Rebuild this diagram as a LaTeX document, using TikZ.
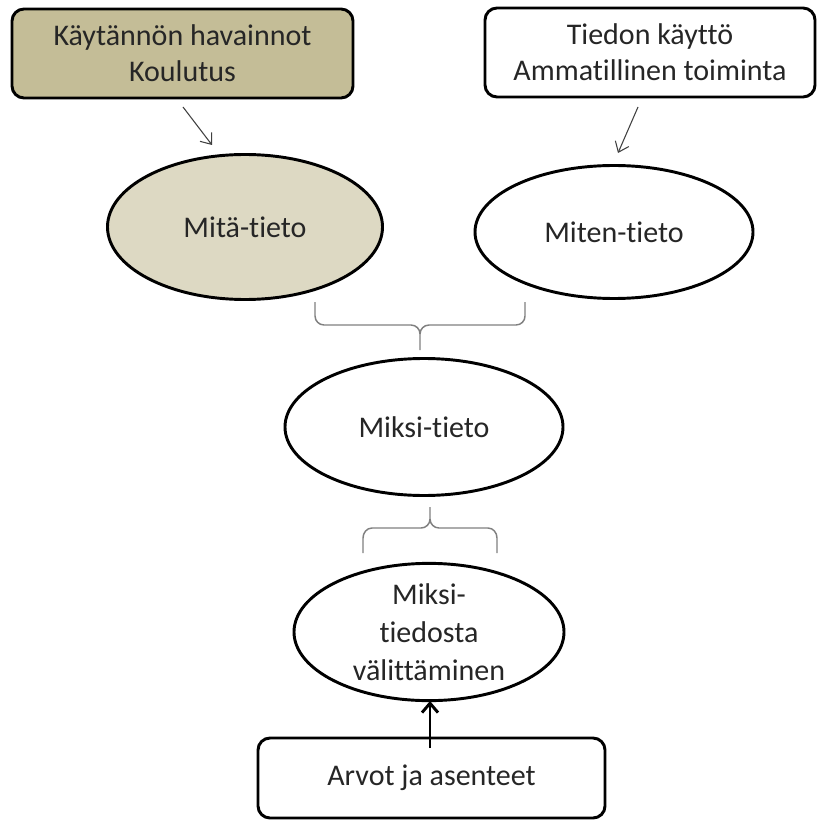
\documentclass[tikz,border=0pt]{standalone}
\usepackage{fontspec}
\setmainfont{Carlito}[RawFeature={-liga;-clig;-calt;-dlig}]
\usetikzlibrary{shapes.geometric,arrows.meta}
\definecolor{tandark}{HTML}{C4BD97}
\definecolor{tanlight}{HTML}{DDD9C3}
\definecolor{thinarrow}{HTML}{404040}
\definecolor{bracegray}{HTML}{808080}
\tikzset{
  txt/.style={font=\fontsize{22.5}{27}\selectfont, align=center, text=black!85},
  boxnode/.style={txt, draw=black, line width=2.2pt, rounded corners=9pt, inner sep=0pt},
  ellnode/.style={txt, ellipse, draw=black, line width=2.2pt, inner sep=0pt},
  thinarr/.style={draw=thinarrow, line width=0.8pt, -{Straight Barb[length=7pt,width=11pt]}},
  thickarr/.style={draw=black, line width=2.2pt, -{Straight Barb[length=7pt,width=12pt]}},
  bracepath/.style={draw=bracegray, line width=1.1pt}
}
\begin{document}
\begin{tikzpicture}[x=0.75pt,y=-0.75pt]
\useasboundingbox (0,0) rectangle (818,823);
% top boxes
\node[boxnode, fill=tandark, minimum width=255.75pt, minimum height=66.75pt] (kay) at (182.5,53.5) {Käytännön havainnot\\Koulutus};
\node[boxnode, fill=white, minimum width=247.5pt, minimum height=66.75pt] (tied) at (650,52.5) {Tiedon käyttö\\Ammatillinen toiminta};
% ellipses
\node[ellnode, fill=tanlight, minimum width=206.25pt, minimum height=108.75pt] (mita) at (245,227) {Mitä-tieto};
\node[ellnode, fill=white, minimum width=208.5pt, minimum height=99.75pt] (miten) at (614,232) {Miten-tieto};
\node[ellnode, fill=white, minimum width=208.5pt, minimum height=102.75pt] (miksi) at (424,427) {Miksi-tieto};
\node[ellnode, fill=white, minimum width=202.5pt, minimum height=101.25pt, font=\fontsize{22.5}{28.5}\selectfont] (valit) at (429,632) {Miksi-\\tiedosta\\välittäminen};
% bottom box
\node[boxnode, fill=white, minimum width=260.25pt, minimum height=60pt] (arvot) at (431.5,778) {Arvot ja asenteet};
% thin arrows
\coordinate (a1s) at (183,107);
\coordinate (a1e) at (212,145);
\coordinate (a2s) at (638,107);
\coordinate (a2e) at (618,153);
\draw[thinarr] (a1s) -- (a1e);
\draw[thinarr] (a2s) -- (a2e);
% thick arrow
\coordinate (a3s) at (430,748);
\coordinate (a3e) at (430,701);
\draw[thickarr] (a3s) -- (a3e);
% brace 1 (tip down)
\draw[bracepath] (315,302) -- (315,316) to[out=-90,in=180] (324,325) -- (411,325) to[out=0,in=90] (420,334) -- (420,350);
\draw[bracepath] (525,302) -- (525,316) to[out=-90,in=0] (516,325) -- (429,325) to[out=180,in=90] (420,334);
% brace 2 (tip up)
\draw[bracepath] (363,553) -- (363,538) to[out=90,in=180] (372,528) -- (421,528) to[out=0,in=-90] (430,519) -- (430,507);
\draw[bracepath] (497,553) -- (497,538) to[out=90,in=0] (488,528) -- (439,528) to[out=180,in=-90] (430,519);
\end{tikzpicture}
\end{document}
